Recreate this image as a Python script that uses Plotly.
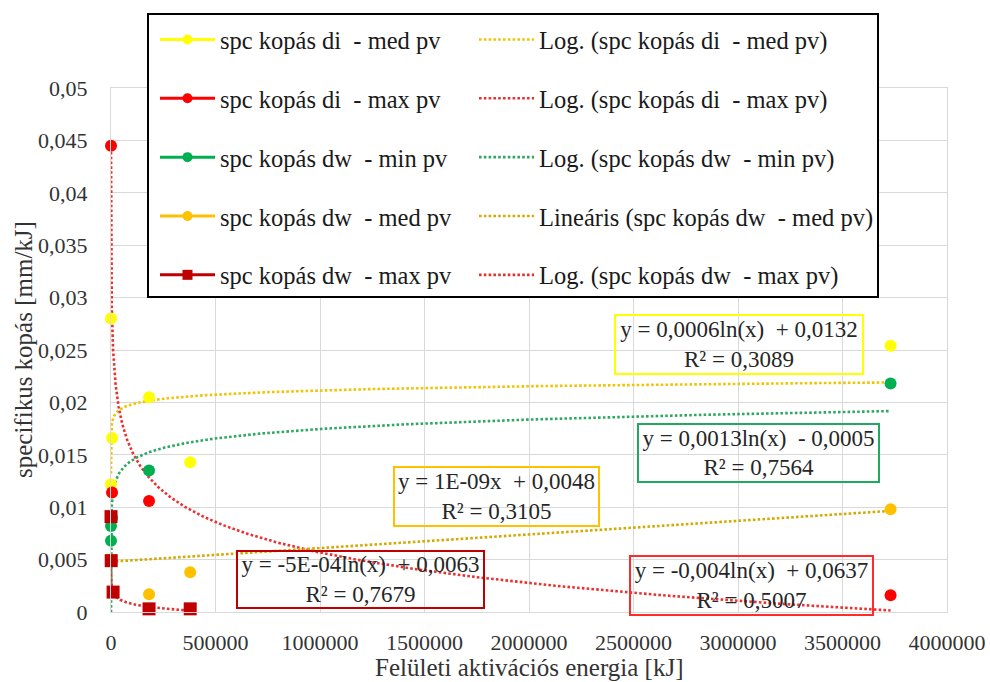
import numpy as np
import plotly.graph_objects as go

# ---------------- data ----------------
di_med_x = [1, 100, 5000, 182000, 379000, 3730000]
di_med_y = [0.0122, 0.0280, 0.0166, 0.0205, 0.0143, 0.0254]

di_max_x = [100, 5000, 182000, 3730000]
di_max_y = [0.0445, 0.0114, 0.0106, 0.0016]

dw_min_x = [1, 100, 5000, 182000, 3730000]
dw_min_y = [0.0068, 0.0082, 0.0090, 0.0135, 0.0218]

dw_med_x = [100, 182000, 379000, 3730000]
dw_med_y = [0.0050, 0.0017, 0.0038, 0.0098]

dw_max_x = [100, 1000, 10000, 182000, 379000]
dw_max_y = [0.0091, 0.0049, 0.0019, 0.0003, 0.0003]

# trendline coefficients (slope, intercept) as shown (rounded) in the chart
trend_di_med = [0.000575, 0.0132]     # log
trend_di_max = [-0.0042, 0.0637]      # log
trend_dw_min = [0.0013, -0.0005]      # log
trend_dw_med = [1.3e-9, 0.0048]       # linear
trend_dw_max = [-0.00048, 0.0063]     # log

series_names = ["spc kopás di \u00a0- med pv", "spc kopás di \u00a0- max pv",
                "spc kopás dw \u00a0- min pv", "spc kopás dw \u00a0- med pv",
                "spc kopás dw \u00a0- max pv"]
trend_names = ["Log. (spc kopás di \u00a0- med pv)", "Log. (spc kopás di \u00a0- max pv)",
               "Log. (spc kopás dw \u00a0- min pv)", "Lineáris (spc kopás dw \u00a0- med pv)",
               "Log. (spc kopás dw \u00a0- max pv)"]
eq_texts = ["y = 0,0006ln(x) \u00a0+ 0,0132<br>R² = 0,3089",
            "y = -0,004ln(x) \u00a0+ 0,0637<br>R² = 0,5007",
            "y = 0,0013ln(x) \u00a0- 0,0005<br>R² = 0,7564",
            "y = 1E-09x \u00a0+ 0,0048<br>R² = 0,3105",
            "y = -5E-04ln(x) \u00a0+ 0,0063<br>R² = 0,7679"]

x_tickvals = [0, 500000, 1000000, 1500000, 2000000, 2500000, 3000000, 3500000, 4000000]
x_ticktext = ["0", "500000", "1000000", "1500000", "2000000", "2500000", "3000000", "3500000", "4000000"]
y_tickvals = [0, 0.005, 0.01, 0.015, 0.02, 0.025, 0.03, 0.035, 0.04, 0.045, 0.05]
y_ticktext = ["0", "0,005", "0,01", "0,015", "0,02", "0,025", "0,03", "0,035", "0,04", "0,045", "0,05"]

# ---------------- styling ----------------
FONT = "'Liberation Serif', 'Times New Roman', serif"
marker_cols = ["#ffff00", "#ff0000", "#00b050", "#ffc000", "#c00000"]
marker_syms = ["circle", "circle", "circle", "circle", "square"]
trend_cols = ["#f2c300", "#ec3030", "#2fa862", "#d4a900", "#e03434"]
eq_border = ["#ffff00", "#ff2a2a", "#22a860", "#ffc000", "#c00000"]

W, H = 990, 682
L, R, T, B = 111, 947, 88, 612   # plot area in page pixels


def px(x):
    return (x - L) / (R - L)


def py(y):
    return (B - y) / (B - T)


fig = go.Figure()

xs_all = [di_med_x, di_max_x, dw_min_x, dw_med_x, dw_max_x]
ys_all = [di_med_y, di_max_y, dw_min_y, dw_med_y, dw_max_y]
trends = [trend_di_med, trend_di_max, trend_dw_min, trend_dw_med, trend_dw_max]
kinds = ["log", "log", "log", "lin", "log"]

# trendlines
for i in range(5):
    xmin, xmax = min(xs_all[i]), max(xs_all[i])
    a, b = trends[i]
    if kinds[i] == "log":
        xx = np.geomspace(xmin, xmax, 600)
        yy = a * np.log(xx) + b
    else:
        xx = np.array([xmin, xmax], dtype=float)
        yy = a * xx + b
    fig.add_trace(go.Scatter(
        x=xx, y=yy, mode="lines", name=trend_names[i],
        line=dict(color=trend_cols[i], width=2.6, dash="2.6px,2.2px"),
        legend="legend2", legendgroup="t%d" % i, hoverinfo="skip"))

# markers
for i in range(5):
    fig.add_trace(go.Scatter(
        x=xs_all[i], y=ys_all[i], mode="markers", name=series_names[i],
        marker=dict(color=marker_cols[i], size=12 if marker_syms[i] == "circle" else 13,
                    symbol=marker_syms[i], line=dict(width=0)),
        cliponaxis=False, showlegend=False))

# legend entries (Excel style line + marker)
for i in range(5):
    fig.add_trace(go.Scatter(
        x=[None], y=[None], mode="lines+markers", name=series_names[i],
        line=dict(color=marker_cols[i], width=3),
        marker=dict(color=marker_cols[i], size=10, symbol=marker_syms[i]),
        legend="legend", legendgroup="s%d" % i))

# equation boxes
eq_boxes = [  # (x0, x1, y0, y1) in page pixels
    (614, 864, 314, 375),
    (629, 874, 555, 616),
    (637, 880, 423, 483),
    (393, 600, 466, 527),
    (236, 485, 550, 609),
]
for i, (x0, x1, y0, y1) in enumerate(eq_boxes):
    fig.add_annotation(
        xref="paper", yref="paper", x=px((x0 + x1) / 2), y=py((y0 + y1) / 2),
        xanchor="center", yanchor="middle", text=eq_texts[i], showarrow=False,
        width=x1 - x0 - 4, height=y1 - y0 - 4, borderpad=0,
        bordercolor=eq_border[i], borderwidth=2, bgcolor="rgba(0,0,0,0)",
        font=dict(family=FONT, size=23, color="#262626"), align="center")

# axis titles
fig.add_annotation(xref="paper", yref="paper", x=0.5, y=py(667), xanchor="center", yanchor="middle",
                   text="Felületi aktivációs energia [kJ]", showarrow=False,
                   font=dict(family=FONT, size=25, color="#333333"))
fig.add_annotation(xref="paper", yref="paper", x=px(23), y=0.5, xanchor="center", yanchor="middle",
                   text="specifikus kopás [mm/kJ]", showarrow=False, textangle=-90,
                   font=dict(family=FONT, size=25, color="#333333"))

# legend frame
fig.add_shape(type="rect", xref="paper", yref="paper", x0=px(148), x1=px(878), y0=py(297), y1=py(14),
              line=dict(color="black", width=2), fillcolor="white", layer="above")

legend_common = dict(orientation="v", xanchor="left", yanchor="top", bgcolor="rgba(0,0,0,0)",
                     borderwidth=0, font=dict(family=FONT, size=24.5, color="#1a1a1a"),
                     tracegroupgap=24, itemwidth=55, itemclick=False, itemdoubleclick=False)

fig.update_layout(
    width=W, height=H, template="none",
    margin=dict(l=L, r=W - R, t=T, b=H - B, pad=0, autoexpand=False),
    paper_bgcolor="white", plot_bgcolor="white",
    showlegend=True,
    legend=dict(x=px(155), y=py(17), **legend_common),
    legend2=dict(x=px(474), y=py(17), **legend_common),
    xaxis=dict(range=[0, 4000000], tickvals=x_tickvals, ticktext=x_ticktext,
               showgrid=True, gridcolor="#d9d9d9", gridwidth=1, zeroline=False,
               showline=True, linecolor="#d9d9d9", linewidth=1, mirror=True,
               ticks="outside", ticklen=11, tickcolor="rgba(0,0,0,0)",
               tickfont=dict(family=FONT, size=22, color="#333333"), automargin=False),
    yaxis=dict(range=[0, 0.05], tickvals=y_tickvals, ticktext=y_ticktext,
               showgrid=True, gridcolor="#d9d9d9", gridwidth=1, zeroline=False,
               showline=True, linecolor="#d9d9d9", linewidth=1, mirror=True,
               ticks="outside", ticklen=18, tickcolor="rgba(0,0,0,0)",
               tickfont=dict(family=FONT, size=22, color="#333333"), automargin=False),
)

fig.write_html("out.html", config={"displayModeBar": False},
               post_script="document.body.style.margin='0px';document.body.style.overflow='hidden';")
